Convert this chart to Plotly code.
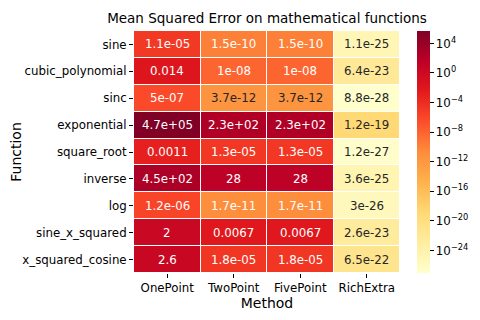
import numpy as np
import plotly.graph_objects as go

methods = ["OnePoint", "TwoPoint", "FivePoint", "RichExtra"]
functions = ["sine", "cubic_polynomial", "sinc", "exponential", "square_root",
             "inverse", "log", "sine_x_squared", "x_squared_cosine"]

one_point = [1.1e-05, 0.014, 5e-07, 4.7e+05, 0.0011, 4.5e+02, 1.2e-06, 2, 2.6]
two_point = [1.5e-10, 1e-08, 3.7e-12, 2.3e+02, 1.3e-05, 28, 1.7e-11, 0.0067, 1.8e-05]
five_point = [1.5e-10, 1e-08, 3.7e-12, 2.3e+02, 1.3e-05, 28, 1.7e-11, 0.0067, 1.8e-05]
rich_extra = [1.1e-25, 6.4e-23, 8.8e-28, 1.2e-19, 1.2e-27, 3.6e-25, 3e-26, 2.6e-23, 6.5e-22]

cbar_ticks = [4, 0, -4, -8, -12, -16, -20, -24]

ylorrd = ["#ffffcc", "#ffeda0", "#fed976", "#feb24c", "#fd8d3c",
          "#fc4e2a", "#e31a1c", "#bd0026", "#800026"]

vals = np.array([one_point, two_point, five_point, rich_extra]).T
z = np.log10(vals)
zmin, zmax = z.min(), z.max()


def hex_rgb(h):
    return np.array([int(h[i:i + 2], 16) for i in (1, 3, 5)]) / 255.0


def cmap(t):
    pos = t * (len(ylorrd) - 1)
    i = min(int(pos), len(ylorrd) - 2)
    f = pos - i
    return hex_rgb(ylorrd[i]) * (1 - f) + hex_rgb(ylorrd[i + 1]) * f


def luminance(rgb):
    lin = np.where(rgb <= 0.03928, rgb / 12.92, ((rgb + 0.055) / 1.055) ** 2.4)
    return 0.2126 * lin[0] + 0.7152 * lin[1] + 0.0722 * lin[2]


fig = go.Figure()
fig.add_trace(go.Heatmap(
    z=z, x=methods, y=functions,
    zmin=zmin, zmax=zmax,
    colorscale=[[i / (len(ylorrd) - 1), c] for i, c in enumerate(ylorrd)],
    xgap=1, ygap=1,
    customdata=vals,
    hovertemplate="%{y} / %{x}: %{customdata:.2g}<extra></extra>",
    colorbar=dict(
        tickvals=cbar_ticks,
        ticktext=["10<sup>%s</sup>" % str(t).replace("-", "\u2212") for t in cbar_ticks],
        ticks="outside", ticklen=4, tickcolor="black",
        thickness=13, len=1.0, lenmode="fraction",
        x=1.06, xanchor="left", xpad=0, y=0.5, yanchor="middle", ypad=0,
        outlinewidth=0,
        tickfont=dict(size=11.8, color="black"),
    ),
))

for r, fn in enumerate(functions):
    for c, m in enumerate(methods):
        t = (z[r, c] - zmin) / (zmax - zmin)
        col = "#262626" if luminance(cmap(t)) > 0.408 else "white"
        fig.add_annotation(x=m, y=fn, text=format(vals[r, c], ".2g"),
                           showarrow=False, font=dict(size=11.8, color=col))

# the page body adds an 8px margin, so the figure is 8px smaller than the window
fig.update_layout(
    width=472, height=312,
    margin=dict(l=126, r=79, t=23, b=47),
    paper_bgcolor="white", plot_bgcolor="white",
    font=dict(family="DejaVu Sans", size=11.8, color="black"),
    title=dict(text="Mean Squared Error on mathematical functions",
               xref="paper", x=0.5, xanchor="center",
               y=1 - 10 / 312, yanchor="middle",
               font=dict(size=13.5)),
)
fig.update_xaxes(title=dict(text="Method", standoff=3), ticks="outside", ticklen=4,
                 tickcolor="black", showgrid=False, zeroline=False, automargin=False)
fig.update_yaxes(title=dict(text="Function", standoff=5), ticks="outside", ticklen=4,
                 tickcolor="black", showgrid=False, zeroline=False, automargin=False,
                 autorange="reversed")

fig.write_html("out.html")
